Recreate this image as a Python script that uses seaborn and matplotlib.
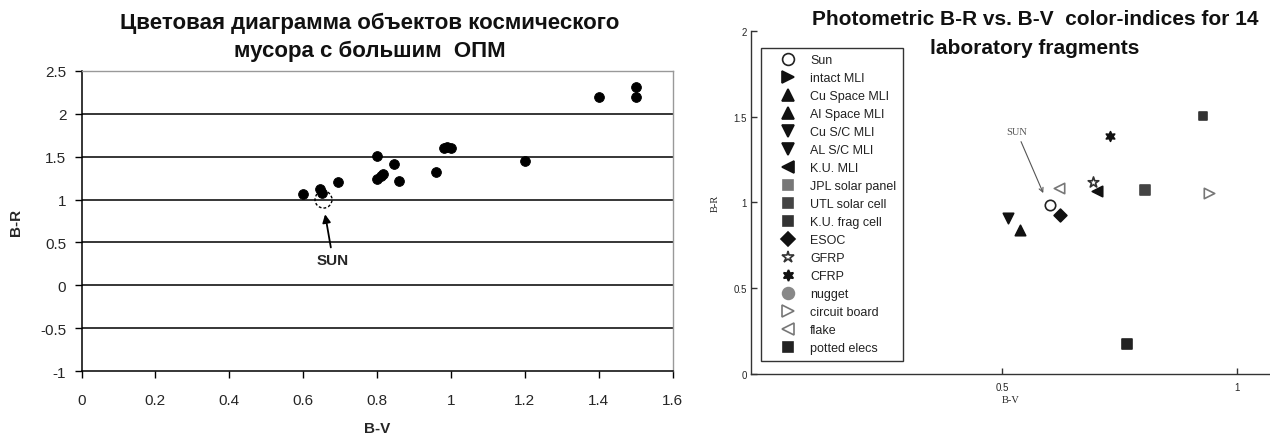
import matplotlib
matplotlib.use("Agg")
import matplotlib.pyplot as plt
import seaborn as sns
import pandas as pd
from matplotlib.lines import Line2D

# ---- left chart: debris objects with large area-to-mass ratio ----
bv_debris = [0.60, 0.645, 0.65, 0.695, 0.80, 0.80, 0.81, 0.815, 0.845, 0.86,
             0.96, 0.98, 0.99, 1.00, 1.20, 1.40, 1.50, 1.50]
br_debris = [1.06, 1.12, 1.08, 1.21, 1.51, 1.24, 1.27, 1.30, 1.41, 1.22,
             1.32, 1.60, 1.61, 1.60, 1.45, 2.20, 2.31, 2.20]
sun_bv = 0.655
sun_br = 1.0
left_xticks = [0, 0.2, 0.4, 0.6, 0.8, 1, 1.2, 1.4, 1.6]
left_xlabels = ["0", "0.2", "0.4", "0.6", "0.8", "1", "1.2", "1.4", "1.6"]
left_yticks = [-1, -0.5, 0, 0.5, 1, 1.5, 2, 2.5]
left_ylabels = ["-1", "-0.5", "0", "0.5", "1", "1.5", "2", "2.5"]

# ---- right chart: laboratory fragments ----
frag_names = ["Sun", "intact MLI", "Cu Space MLI", "Al Space MLI", "Cu S/C MLI",
              "AL S/C MLI", "K.U. MLI", "JPL solar panel", "UTL solar cell",
              "K.U. frag cell", "ESOC", "GFRP", "CFRP", "nugget", "circuit board",
              "flake", "potted elecs"]
# only the fragments that show on the plot
plot_names = ["Sun", "Cu Space MLI", "Cu S/C MLI", "K.U. MLI", "UTL solar cell",
              "K.U. frag cell", "ESOC", "GFRP", "CFRP", "circuit board", "flake",
              "potted elecs"]
plot_bv = [0.603, 0.538, 0.513, 0.702, 0.805, 0.927, 0.624, 0.693, 0.729, 0.941, 0.621, 0.765]
plot_br = [0.985, 0.841, 0.908, 1.069, 1.075, 1.506, 0.927, 1.121, 1.386, 1.054, 1.083, 0.175]
right_xticks = [0.5, 1]
right_yticks = [0, 0.5, 1, 1.5, 2]

# marker look per legend entry: marker, face, edge, size
mk = {
    "Sun": ("o", "white", "#222222", 7.5),
    "intact MLI": (">", "#111111", "#111111", 7.5),
    "Cu Space MLI": ("^", "#111111", "#111111", 7.5),
    "Al Space MLI": ("^", "#111111", "#111111", 7.5),
    "Cu S/C MLI": ("v", "#111111", "#111111", 7.5),
    "AL S/C MLI": ("v", "#111111", "#111111", 7.5),
    "K.U. MLI": ("<", "#111111", "#111111", 7.5),
    "JPL solar panel": ("s", "#777777", "#777777", 6.5),
    "UTL solar cell": ("s", "#444444", "#444444", 6.5),
    "K.U. frag cell": ("s", "#333333", "#333333", 5.5),
    "ESOC": ("D", "#111111", "#111111", 6.5),
    "GFRP": ("*", "white", "#333333", 8),
    "CFRP": ((6, 1, 0), "#111111", "#111111", 7),
    "nugget": ("o", "#888888", "#888888", 7.5),
    "circuit board": (">", "white", "#777777", 7.5),
    "flake": ("<", "white", "#777777", 7.5),
    "potted elecs": ("s", "#222222", "#222222", 6.5),
}

sns.set_style("white")
plt.rcParams["font.family"] = ["Liberation Sans", "DejaVu Sans"]

fig = plt.figure(figsize=(12.7, 4.39), dpi=100)

# ---------------- left ----------------
ax1 = fig.add_axes([0.0642, 0.1526, 0.4654, 0.6834])
ax1.set_xlim(0, 1.6)
ax1.set_ylim(-1, 2.5)
for y in left_yticks[1:-1]:
    ax1.axhline(y, color="black", lw=1.1, zorder=1)
sns.scatterplot(x=bv_debris, y=br_debris, ax=ax1, color="black", s=50,
                marker="o", edgecolor="black", zorder=3)
ax1.scatter([sun_bv], [sun_br], s=150, facecolor="none", edgecolor="black",
            linewidths=1.0, linestyle=(0, (2, 1.5)), zorder=4)
ax1.annotate("SUN", xy=(0.658, 0.86), xytext=(0.681, 0.29), ha="center", va="center",
             fontsize=11, fontweight="bold",
             arrowprops=dict(arrowstyle="-|>", color="black", lw=1.3, mutation_scale=12))
ax1.set_xticks(left_xticks)
ax1.set_xticklabels(left_xlabels, fontsize=11)
ax1.set_yticks(left_yticks)
ax1.set_yticklabels(left_ylabels, fontsize=11)
ax1.tick_params(axis="both", direction="out", length=5, width=1, color="black",
                left=True, bottom=True)
ax1.tick_params(axis="x", pad=11)
ax1.tick_params(axis="y", pad=6)
for s in ["left", "bottom"]:
    ax1.spines[s].set_color("black")
    ax1.spines[s].set_linewidth(1.1)
for s in ["top", "right"]:
    ax1.spines[s].set_color("#999999")
    ax1.spines[s].set_linewidth(1)
ax1.set_xlabel("B-V", fontsize=11, fontweight="bold", labelpad=10)
ax1.set_ylabel("B-R", fontsize=11, fontweight="bold", labelpad=12)
fig.text(0.291, 0.947, "Цветовая диаграмма объектов космического", ha="center",
         va="center", fontsize=16, fontweight="bold", color="#111111")
fig.text(0.291, 0.883, "мусора с большим  ОПМ", ha="center", va="center",
         fontsize=16, fontweight="bold", color="#111111")

# ---------------- right ----------------
ax2 = fig.add_axes([0.5913, 0.1458, 0.4087, 0.7813])
ax2.set_xlim(-0.034, 1.07)
ax2.set_ylim(0, 2)
frag = pd.DataFrame({"name": plot_names, "bv": plot_bv, "br": plot_br})
for _, row in frag.iterrows():
    m, fc, ec, ms = mk[row["name"]]
    sns.scatterplot(x=[row["bv"]], y=[row["br"]], ax=ax2, marker=m, s=ms ** 2,
                    color=fc, edgecolor=ec, linewidth=1.2, zorder=3)
ax2.annotate("SUN", xy=(0.59, 1.04), xytext=(0.531, 1.415), ha="center", va="center",
             fontsize=7.5, family="Liberation Serif", color="#555555",
             arrowprops=dict(arrowstyle="->", color="#555555", lw=0.8))
handles = []
for name in frag_names:
    m, fc, ec, ms = mk[name]
    handles.append(Line2D([], [], ls="none", marker=m, markersize=ms + 1,
                          markerfacecolor=fc, markeredgecolor=ec, markeredgewidth=1.2))
leg = ax2.legend(handles, frag_names, loc="upper left", bbox_to_anchor=(0.019, 0.95),
                 fontsize=9, labelspacing=0.48, handletextpad=0.15, borderpad=0.5,
                 handlelength=3.3, fancybox=False, framealpha=1, borderaxespad=0)
leg.get_frame().set_edgecolor("#333333")
leg.get_frame().set_linewidth(1)
for t in leg.get_texts():
    t.set_color("#222222")
ax2.set_xticks(right_xticks)
ax2.set_xticklabels(["0.5", "1"], fontsize=7)
ax2.set_yticks(right_yticks)
ax2.set_yticklabels(["0", "0.5", "1", "1.5", "2"], fontsize=7)
ax2.tick_params(axis="both", direction="in", length=4, width=1, color="#333333",
                left=True, bottom=True)
ax2.tick_params(axis="x", pad=6)
ax2.tick_params(axis="y", pad=3)
ax2.spines["top"].set_visible(False)
ax2.spines["right"].set_visible(False)
for s in ["left", "bottom"]:
    ax2.spines[s].set_color("#333333")
    ax2.spines[s].set_linewidth(1)
ax2.set_xlabel("B-V", fontsize=7.5, family="Liberation Serif", labelpad=2)
ax2.set_ylabel("B-R", fontsize=7.5, family="Liberation Serif", labelpad=10)
fig.text(0.815, 0.955, "Photometric B-R vs. B-V  color-indices for 14", ha="center",
         va="center", fontsize=15, fontweight="bold", color="#111111")
fig.text(0.815, 0.89, "laboratory fragments", ha="center", va="center",
         fontsize=15, fontweight="bold", color="#111111")

fig.savefig("out.png", dpi=100)
